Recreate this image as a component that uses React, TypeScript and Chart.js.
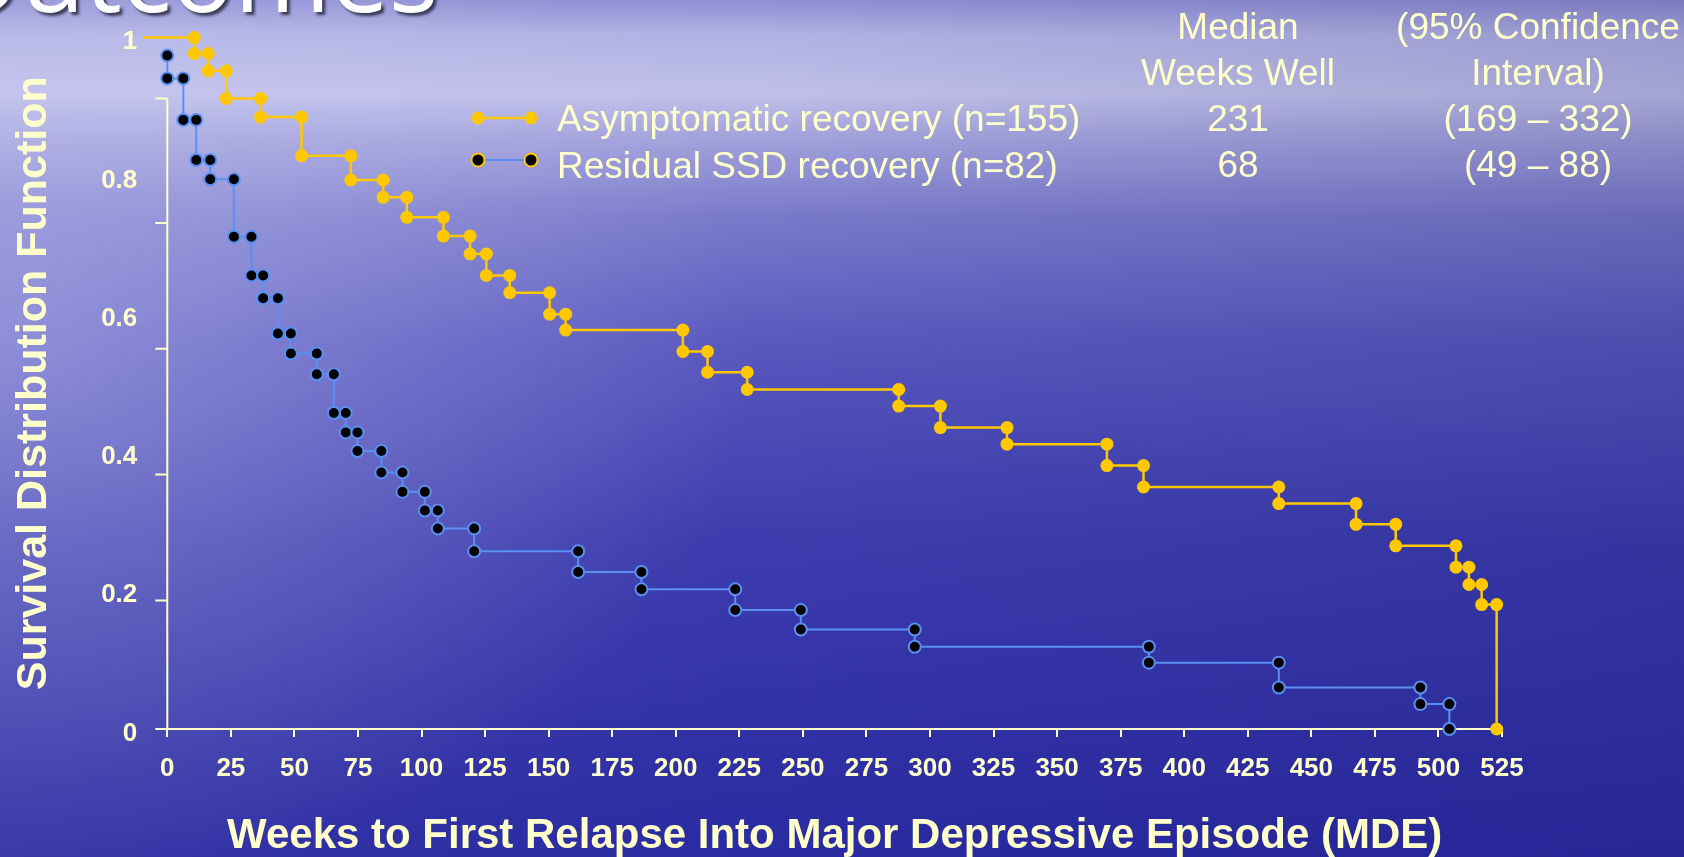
import React, { useEffect, useRef } from "react";
import { Chart, registerables } from "chart.js";

Chart.register(...registerables);

// ---------- data ----------
const seriesLabels = ["Asymptomatic recovery (n=155)", "Residual SSD recovery (n=82)"];
const medianWeeks = ["231", "68"];
const ciLow = [169, 49];
const ciHigh = [332, 88];
const tableHeadMedian = ["Median", "Weeks Well"];
const tableHeadCI = ["(95% Confidence", "Interval)"];

const xTitle = "Weeks to First Relapse Into Major Depressive Episode (MDE)";
const yTitle = "Survival Distribution Function";
const slideTitle = "Outcomes";

const xTicks = [0, 25, 50, 75, 100, 125, 150, 175, 200, 225, 250, 275, 300, 325, 350, 375, 400, 425, 450, 475, 500, 525];
const yLabelTicks = [0, 0.2, 0.4, 0.6, 0.8, 1];
const yTickMarks = [0, 0.186, 0.368, 0.55, 0.732, 0.912];

// Asymptomatic recovery: event times (weeks) and survival after each step
const ascTimes = [-9.3, 10.6, 16.1, 23.2, 36.7, 52.8, 72.2, 84.9, 94.2, 108.6, 119.1, 125.5, 134.7, 150.4, 156.7, 202.8, 212.5, 228.1, 287.7, 304.1, 330.3, 369.6, 384.0, 437.2, 467.6, 483.2, 506.9, 512.0, 517.0, 522.9];
const ascSurv = [1.0, 0.977, 0.952, 0.912, 0.885, 0.829, 0.794, 0.769, 0.74, 0.713, 0.687, 0.656, 0.631, 0.6, 0.577, 0.546, 0.516, 0.491, 0.467, 0.436, 0.412, 0.381, 0.35, 0.326, 0.296, 0.265, 0.234, 0.209, 0.18, 0];

// Residual SSD recovery
const ssdTimes = [0, 0, 6.3, 11.4, 16.9, 26.2, 33.1, 37.7, 43.5, 48.6, 58.8, 65.5, 70.2, 74.8, 84.2, 92.5, 101.3, 106.4, 120.7, 161.6, 186.5, 223.4, 249.2, 294.0, 386.1, 437.2, 492.9, 504.3];
const ssdSurv = [0.974, 0.941, 0.881, 0.823, 0.795, 0.712, 0.656, 0.623, 0.572, 0.543, 0.513, 0.457, 0.429, 0.402, 0.371, 0.343, 0.316, 0.29, 0.257, 0.227, 0.202, 0.172, 0.144, 0.119, 0.096, 0.06, 0.036, 0];

// ---------- styles ----------
const CREAM = "#FFFFCC";
const GOLD = "#FFC800";
const BLUE = "#5A90F2";
const SANS = "'Liberation Sans', Arial, Helvetica, sans-serif";

const W = 1684;
const H = 857;
const AREA_LEFT = 167.3;
const AREA_RIGHT = 1502;
const AREA_TOP = 37.6;
const AREA_BOTTOM = 729;

const LEGEND_X1 = 478;
const LEGEND_X2 = 531;
const LEGEND_TX = 557;
const LEGEND_DOT_Y = [118, 160];
const LEGEND_TEXT_BASE = [131, 178];
const legendDotBorder = [null, GOLD];

function kmCorners(times: number[], surv: number[]) {
  const pts: { x: number; y: number }[] = [{ x: times[0], y: surv[0] }];
  for (let i = 1; i < times.length; i++) {
    const prev = pts[pts.length - 1];
    if (!(prev.x === times[i] && prev.y === surv[i - 1])) pts.push({ x: times[i], y: surv[i - 1] });
    pts.push({ x: times[i], y: surv[i] });
  }
  return pts;
}

const axisPlugin = {
  id: "kmAxis",
  beforeDatasetsDraw(chart: any) {
    const { ctx } = chart;
    const xs = chart.scales.x;
    const ys = chart.scales.y;
    const x = xs.getPixelForValue(0);
    ctx.save();
    ctx.strokeStyle = CREAM;
    ctx.lineWidth = 2;
    ctx.beginPath();
    ctx.moveTo(x, ys.getPixelForValue(0));
    ctx.lineTo(x, ys.getPixelForValue(yTickMarks[yTickMarks.length - 1]));
    yTickMarks.forEach((v) => {
      const y = ys.getPixelForValue(v);
      ctx.moveTo(x - 12, y);
      ctx.lineTo(x, y);
    });
    ctx.stroke();
    ctx.restore();
  },
};

const legendPlugin = {
  id: "kmLegend",
  afterDraw(chart: any) {
    const { ctx } = chart;
    chart.data.datasets.forEach((ds: any, i: number) => {
      const y = LEGEND_DOT_Y[i];
      ctx.save();
      ctx.strokeStyle = ds.borderColor;
      ctx.lineWidth = ds.borderWidth;
      ctx.beginPath();
      ctx.moveTo(LEGEND_X1, y);
      ctx.lineTo(LEGEND_X2, y);
      ctx.stroke();
      [LEGEND_X1, LEGEND_X2].forEach((x) => {
        ctx.beginPath();
        ctx.arc(x, y, 6.5, 0, Math.PI * 2);
        ctx.fillStyle = ds.pointBackgroundColor;
        ctx.fill();
        if (legendDotBorder[i]) {
          ctx.lineWidth = 2;
          ctx.strokeStyle = legendDotBorder[i];
          ctx.stroke();
        }
      });
      ctx.fillStyle = CREAM;
      ctx.font = `37px ${SANS}`;
      ctx.textAlign = "left";
      ctx.textBaseline = "alphabetic";
      ctx.fillText(ds.label, LEGEND_TX, LEGEND_TEXT_BASE[i]);
      ctx.restore();
    });
  },
};

const BG = [
  "radial-gradient(ellipse 760px 560px at 0px 330px, rgba(200,200,245,0.45), rgba(200,200,245,0))",
  "linear-gradient(90deg, rgba(255,255,255,0.05) 0%, rgba(0,0,0,0) 45%, rgba(10,10,80,0.15) 100%)",
  "linear-gradient(180deg, #8e8ed4 0px, #b2b2e3 35px, #c0c0ea 95px, #a4a4dd 135px, #7a7acb 215px, #5858be 340px, #3c3cae 540px, #2a2aa2 857px)",
].join(",");

export default function App() {
  const canvasRef = useRef<HTMLCanvasElement | null>(null);

  useEffect(() => {
    document.body.style.margin = "0";
    const canvas = canvasRef.current;
    if (!canvas) return;
    Chart.defaults.font.family = SANS;
    const chart = new Chart(canvas, {
      type: "scatter",
      data: {
        datasets: [
          {
            label: seriesLabels[0],
            data: kmCorners(ascTimes, ascSurv),
            showLine: true,
            borderColor: GOLD,
            borderWidth: 2.5,
            pointRadius: 6.5,
            pointBackgroundColor: GOLD,
            pointBorderColor: GOLD,
            pointBorderWidth: 0,
            tension: 0,
            clip: false,
          } as any,
          {
            label: seriesLabels[1],
            data: kmCorners(ssdTimes, ssdSurv),
            showLine: true,
            borderColor: BLUE,
            borderWidth: 2,
            pointRadius: 6,
            pointBackgroundColor: "#000000",
            pointBorderColor: BLUE,
            pointBorderWidth: 2,
            tension: 0,
            clip: false,
          } as any,
        ],
      },
      options: {
        responsive: false,
        animation: false,
        devicePixelRatio: 1,
        layout: { padding: { left: 0, right: W - AREA_RIGHT, top: AREA_TOP, bottom: 0 } },
        plugins: { legend: { display: false }, tooltip: { enabled: false } },
        scales: {
          x: {
            type: "linear",
            min: 0,
            max: 525,
            afterBuildTicks: (s: any) => {
              s.ticks = xTicks.map((v) => ({ value: v }));
            },
            afterFit: (s: any) => {
              s.height = H - AREA_BOTTOM;
            },
            grid: { display: true, drawOnChartArea: false, drawTicks: true, tickLength: 8, color: CREAM, lineWidth: 2 },
            border: { display: true, color: CREAM, width: 2 },
            ticks: {
              color: CREAM,
              font: { family: SANS, size: 26, weight: "bold" },
              padding: 16,
              maxRotation: 0,
              autoSkip: false,
              callback: (v: any) => String(v),
            },
            title: {
              display: true,
              text: xTitle,
              color: CREAM,
              font: { family: SANS, size: 42, weight: "bold", lineHeight: 1 },
              padding: { top: 0, bottom: 0 },
            },
          },
          y: {
            type: "linear",
            min: 0,
            max: 1,
            afterBuildTicks: (s: any) => {
              s.ticks = yLabelTicks.map((v) => ({ value: v }));
            },
            afterFit: (s: any) => {
              s.width = AREA_LEFT;
            },
            grid: {
              display: true,
              drawOnChartArea: false,
              drawTicks: true,
              tickLength: 28,
              color: "rgba(0,0,0,0)",
            },
            border: { display: false },
            ticks: {
              color: CREAM,
              font: { family: SANS, size: 26, weight: "bold" },
              padding: 2,
              labelOffset: 4.5,
              callback: (v: any) => (v === 0 ? "0" : v === 1 ? "1" : Number(v).toFixed(1)),
            },
            title: {
              display: true,
              text: yTitle,
              color: CREAM,
              font: { family: SANS, size: 43, weight: "bold", lineHeight: 1 },
              padding: { top: 13, bottom: 0 },
            },
          },
        },
      } as any,
      plugins: [axisPlugin, legendPlugin],
    });
    return () => chart.destroy();
  }, []);

  const cellStyle = (cx: number): React.CSSProperties => ({
    position: "absolute",
    left: cx - 200,
    width: 400,
    textAlign: "center",
    top: 4,
    font: `37px/46px ${SANS}`,
    color: CREAM,
    whiteSpace: "pre",
  });

  return (
    <div style={{ position: "fixed", left: 0, top: 0, width: W, height: H, overflow: "hidden", background: BG }}>
      <div
        style={{
          position: "absolute",
          left: -60,
          top: -80,
          font: "104px/104px 'Open Sans', sans-serif",
          color: "#ffffff",
          textShadow: "3px 3px 3px rgba(20,20,40,0.75)",
          whiteSpace: "nowrap",
        }}
      >
        {slideTitle}
      </div>
      <canvas ref={canvasRef} width={W} height={H} style={{ position: "absolute", left: 0, top: 0, width: W, height: H }} />
      <div style={cellStyle(1238)}>
        {[...tableHeadMedian, ...medianWeeks].map((t, i) => (
          <div key={i}>{t}</div>
        ))}
      </div>
      <div style={cellStyle(1538)}>
        {[...tableHeadCI, ...ciLow.map((lo, i) => `(${lo} – ${ciHigh[i]})`)].map((t, i) => (
          <div key={i}>{t}</div>
        ))}
      </div>
    </div>
  );
}
